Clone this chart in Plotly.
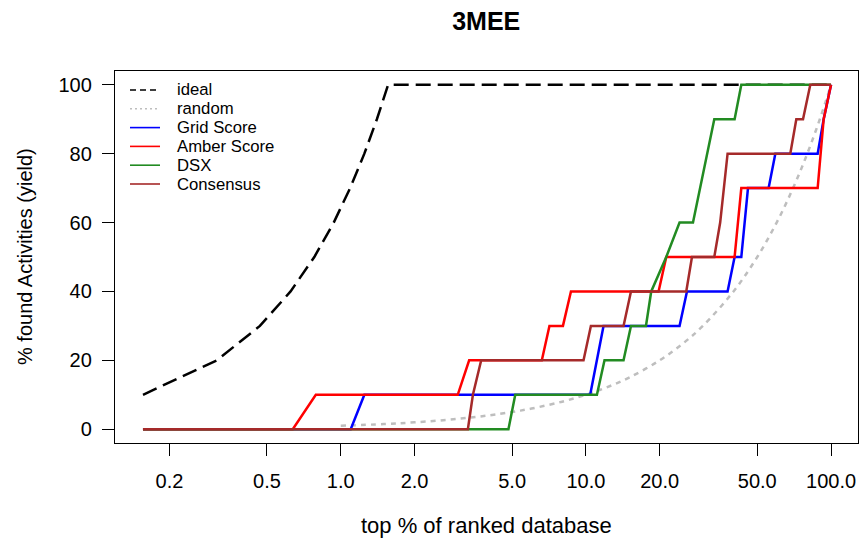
import plotly.graph_objects as go

# Enrichment (yield) curves for target 3MEE: x = top % of ranked database,
# y = % of known actives found. Vertices are listed where a curve changes.

ideal_x = [0.156, 0.312, 0.468, 0.624, 0.78, 0.936, 1.092, 1.248, 1.404, 1.56, 100.0]
ideal_y = [10, 20, 30, 40, 50, 60, 70, 80, 90, 100, 100]

random_x = [1, 1.5, 2, 3, 4, 5, 6, 8, 10, 12, 15, 20, 25, 30, 40, 50, 60, 70, 80, 90, 100]
random_y = [1, 1.5, 2, 3, 4, 5, 6, 8, 10, 12, 15, 20, 25, 30, 40, 50, 60, 70, 80, 90, 100]

grid_x = [0.156, 1.098, 1.248, 10.41, 11.80, 24.1, 25.84, 37.84, 40.42, 43.05, 45.84,
          55.64, 59.26, 88.19, 93.3, 100.0]
grid_y = [0, 0, 10, 10, 30, 30, 40, 40, 50, 50, 70, 70, 80, 80, 90, 100]

amber_x = [0.156, 0.637, 0.791, 3.00, 3.34, 6.61, 7.10, 8.06, 8.69, 19.79, 21.27,
           40.42, 43.05, 88.19, 93.3, 100.0]
amber_y = [0, 0, 10, 10, 20, 20, 30, 30, 40, 40, 50, 50, 70, 70, 90, 100]

dsx_x = [0.156, 4.83, 5.15, 11.09, 11.91, 14.24, 15.27, 17.58, 18.47, 21.27, 24.1,
         27.34, 33.4, 40.42, 43.05, 100.0]
dsx_y = [0, 0, 10, 10, 20, 20, 30, 30, 40, 50, 60, 60, 90, 90, 100, 100]

consensus_x = [0.156, 3.30, 3.46, 3.74, 9.78, 10.48, 14.24, 15.27, 25.67, 27.08, 33.4,
               35.3, 37.84, 68.2, 72.17, 76.86, 82.3, 100.0]
consensus_y = [0, 0, 10, 20, 20, 30, 30, 40, 40, 50, 50, 60, 80, 80, 90, 90, 100, 100]

x_ticks = [0.2, 0.5, 1, 2, 5, 10, 20, 50, 100]
x_ticktext = ["0.2", "0.5", "1.0", "2.0", "5.0", "10.0", "20.0", "50.0", "100.0"]
y_ticks = [0, 20, 40, 60, 80, 100]

FONT = "Liberation Sans, Arial, sans-serif"

series = [
    ("ideal", ideal_x, ideal_y, dict(color="black", width=2.5, dash="15px,7px")),
    ("random", random_x, random_y, dict(color="#BEBEBE", width=2.5, dash="5px,5px", shape="spline")),
    ("Grid Score", grid_x, grid_y, dict(color="#0000FF", width=2.5)),
    ("Amber Score", amber_x, amber_y, dict(color="#FF0000", width=2.5)),
    ("DSX", dsx_x, dsx_y, dict(color="#228B22", width=2.5)),
    ("Consensus", consensus_x, consensus_y, dict(color="#A52A2A", width=2.5)),
]

fig = go.Figure()
for name, xs, ys, line in series:
    fig.add_trace(go.Scatter(x=xs, y=ys, mode="lines", name=name, line=line,
                             showlegend=False))

# Page geometry (pixels) of the plotting region
W, H = 861, 540
ML, MR, MT, MB = 115, 3, 71, 97
PW, PH = W - ML - MR, H - MT - MB


def px_to_paper_x(px):
    return (px - ML) / PW


def px_to_paper_y(py):
    return (H - MB - py) / PH


# Borderless key in the top-left corner of the plotting region
shapes = []
annotations = []
for i, (name, _, _, line) in enumerate(series):
    row_y = px_to_paper_y(90 + 18.8 * i)
    key_line = dict(color=line["color"], width=1.6)
    if "dash" in line:
        key_line["dash"] = "6px,4px" if name == "ideal" else "2px,3px"
    shapes.append(dict(type="line", xref="paper", yref="paper",
                       x0=px_to_paper_x(130), x1=px_to_paper_x(160),
                       y0=row_y, y1=row_y, line=key_line))
    annotations.append(dict(text=name, xref="paper", yref="paper",
                            x=px_to_paper_x(175), y=row_y, xanchor="left",
                            yanchor="middle", showarrow=False,
                            font=dict(family=FONT, size=16.7, color="black")))

annotations += [
    dict(text="top % of ranked database", xref="paper", yref="paper",
         x=0.5, y=px_to_paper_y(525), xanchor="center", yanchor="middle",
         showarrow=False, font=dict(family=FONT, size=22, color="black")),
    dict(text="% found Activities (yield)", xref="paper", yref="paper",
         x=px_to_paper_x(25), y=0.5, xanchor="center", yanchor="middle",
         showarrow=False, textangle=-90,
         font=dict(family=FONT, size=20, color="black")),
]

axis_common = dict(showline=True, mirror=True, linecolor="black", linewidth=1.3,
                   ticks="outside", ticklen=12, tickwidth=1.3, tickcolor="black",
                   showgrid=False, zeroline=False,
                   tickfont=dict(family=FONT, size=20, color="black"))

fig.update_xaxes(type="log", range=[-0.921, 2.110], tickvals=x_ticks,
                 ticktext=x_ticktext, ticklabelstandoff=8, **axis_common)
fig.update_yaxes(range=[-4, 104], tickvals=y_ticks, ticklabelstandoff=6,
                 **axis_common)

fig.update_layout(
    width=W, height=H,
    margin=dict(l=ML, r=MR, t=MT, b=MB),
    paper_bgcolor="white", plot_bgcolor="white",
    font=dict(family=FONT, color="black"),
    title=dict(text="<b>3MEE</b>", x=0.5647, xanchor="center", y=0.961, yanchor="middle",
               font=dict(family=FONT, size=25, color="black")),
    showlegend=False,
    shapes=shapes,
    annotations=annotations,
)

fig.write_html("out.html")
